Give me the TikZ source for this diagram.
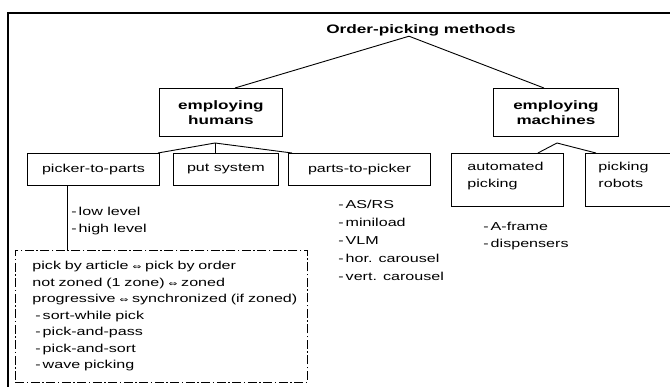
\documentclass[tikz,border=0pt]{standalone}
\usepackage{fontspec}
\setmainfont{Liberation Sans}[FakeStretch=1.4]
\newfontfamily\arrowfont{DejaVu Sans}[FakeStretch=1.4]
\newcommand{\versus}{{\arrowfont\fontsize{7.5}{7.5}\selectfont ⇔}}
\begin{document}
\begin{tikzpicture}[x=1pt, y=-1pt, line width=0.9pt,%
    every node/.style={font=\fontsize{11.5}{16.5}\selectfont, inner sep=0pt},
    base/.style={rectangle, draw, minimum height=32pt, anchor=north west},
    headbox/.style={base, minimum height=48pt, align=center, font=\fontsize{12.2}{15}\selectfont\bfseries},
    topbox/.style={base, minimum height=53pt, inner xsep=13pt, inner ysep=9pt},
    list/.style={anchor=north west, align=left}]
  \useasboundingbox (0,0) rectangle (670,386);
  \draw[line width=1.3pt] (8,400) |- (690,13);
  \node[font=\fontsize{12.3}{14}\selectfont\bfseries] (title) at (421,30) {Order-picking methods};
  \node[headbox, minimum width=123pt] (hum) at (159,88) {employing\\humans};
  \node[headbox, minimum width=125pt] (mach) at (493,88) {employing\\machines};
  \coordinate (hj) at (215,143);
  \coordinate (mj) at (557,143);
  \node[base, minimum width=132pt] (ptp) at (27,153) {picker-to-parts};
  \node[base, minimum width=105pt] (put) at (173,153) {put system};
  \node[base, minimum width=142pt] (ptpick) at (288,153) {parts-to-picker};
  \node[topbox, minimum width=112pt] (auto) at (451,153) {\parbox[t][35pt][t]{80pt}{automated\\picking}};
  \node[topbox, minimum width=105pt] (robot) at (585,153) {\parbox[t][35pt][t]{79pt}{picking\\robots}};
  \node[draw, anchor=north west, dash pattern=on 9pt off 2.5pt on 1.5pt off 2.5pt,
    minimum width=292pt, minimum height=132pt, text width=258pt, inner xsep=17pt, align=left] (var) at (15,250)
    {\mbox{pick by article \versus{} pick by order}\\
     \mbox{not zoned (1 zone) \versus{} zoned}\\
     \mbox{progressive \versus{} synchronized (if zoned)}\\
     \hspace*{3pt}-\,sort-while pick\\
     \hspace*{3pt}-\,pick-and-pass\\
     \hspace*{3pt}-\,pick-and-sort\\
     \hspace*{3pt}-\,wave picking};
  \node[list] (lvl) at (71,207) {-\,low level\\-\,high level};
  \node[list, font=\fontsize{11.5}{18}\selectfont] (sys) at (338,200) {-\,AS/RS\\-\,miniload\\-\,VLM\\-\,hor. carousel\\-\,vert. carousel};
  \node[list, font=\fontsize{11.5}{17}\selectfont] (disp) at (483,222) {-\,A-frame\\-\,dispensers};
  \draw ([xshift=-12pt]title.south) -- ([xshift=14pt]hum.north);
  \draw ([xshift=-12pt]title.south) -- ([xshift=-12pt]mach.north);
  \draw ([xshift=-2pt]ptp.north east) -- (hj) -- ([xshift=4pt]ptpick.north west);
  \draw (hj) -- (hj |- put.north);
  \draw ([xshift=-26pt]auto.north east) -- (mj) -- ([xshift=11pt]robot.north west);
  \coordinate (drop) at ([xshift=40pt]ptp.south west);
  \draw (drop) -- (drop |- var.north);
\end{tikzpicture}
\end{document}
